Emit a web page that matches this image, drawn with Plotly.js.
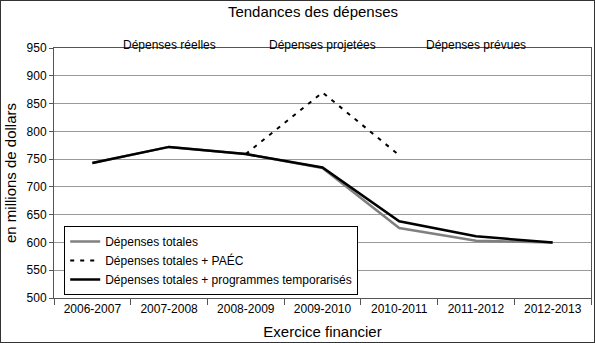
<!DOCTYPE html>
<html>
<head>
<meta charset="utf-8">
<script src="https://cdn.plot.ly/plotly-3.0.1.min.js"></script>
<style>
  body { margin: 0; }
  #chart { width: 595px; height: 343px; box-sizing: border-box; border: 1px solid #333; }
</style>
</head>
<body>
<div id="chart"></div>
<script>
// Exercices financiers
var years = ['2006-2007', '2007-2008', '2008-2009', '2009-2010', '2010-2011', '2011-2012', '2012-2013']

// valeurs (millions de dollars)
var totales = [743, 772, 759, 734, 626, 603, 600]
var totalesPaec = [null, null, 759, 870, 757, null, null]
var totalesTemp = [743, 772, 759, 735, 638, 611, 600]

var periodes = ['Dépenses réelles', 'Dépenses projetées', 'Dépenses prévues']
var periodesX = ['2007-2008', '2009-2010', '2011-2012']

var font = 'Liberation Sans, Arial, sans-serif'

var traceTot = {
  x: years,
  y: totales,
  type: 'scatter',
  mode: 'lines',
  name: 'Dépenses totales',
  line: { color: '#808080', width: 2.5 },
}

var tracePaec = {
  x: years,
  y: totalesPaec,
  type: 'scatter',
  mode: 'lines',
  name: 'Dépenses totales + PAÉC',
  line: { color: '#000', width: 2, dash: '4px,6px' },
}

var traceTemp = {
  x: years,
  y: totalesTemp,
  type: 'scatter',
  mode: 'lines',
  name: 'Dépenses totales + programmes temporarisés',
  line: { color: '#000', width: 2.5 },
}

var annots = periodes.map(function (p, i) {
  return {
    x: periodesX[i],
    y: 1.048,
    yref: 'paper',
    text: p,
    showarrow: false,
    font: { size: 12, color: '#000' },
  }
})

var layout = {
  width: 593,
  height: 341,
  margin: { l: 53, r: 3, t: 47, b: 44 },
  font: { family: font, color: '#000', size: 12 },
  paper_bgcolor: '#fff',
  plot_bgcolor: '#fff',
  title: {
    text: 'Tendances des dépenses',
    font: { size: 15 },
    xref: 'container',
    x: 313 / 595,
    xanchor: 'center',
    yref: 'container',
    y: 1 - 11 / 341,
    yanchor: 'middle',
  },
  xaxis: {
    title: { text: 'Exercice financier', font: { size: 15 }, standoff: 11 },
    range: [-0.5, 6.5],
    showline: true,
    linecolor: '#555',
    mirror: true,
    ticks: 'outside',
    tickson: 'boundaries',
    ticklen: 6,
    tickcolor: '#555',
    showgrid: false,
    zeroline: false,
  },
  yaxis: {
    title: { text: 'en millions de dollars', font: { size: 15 }, standoff: 6 },
    range: [500, 950],
    dtick: 50,
    showline: true,
    linecolor: '#555',
    mirror: true,
    ticks: 'outside',
    ticklen: 4,
    tickcolor: '#555',
    gridcolor: '#999',
    gridwidth: 1,
    zeroline: false,
  },
  legend: {
    x: 0.019,
    y: 0.012,
    xanchor: 'left',
    yanchor: 'bottom',
    bgcolor: '#fff',
    bordercolor: '#000',
    borderwidth: 1,
    font: { size: 12 },
    tracegroupgap: 0,
  },
  annotations: annots,
  showlegend: true,
}

Plotly.newPlot('chart', [traceTot, tracePaec, traceTemp], layout, { displayModeBar: false })
</script>
</body>
</html>
